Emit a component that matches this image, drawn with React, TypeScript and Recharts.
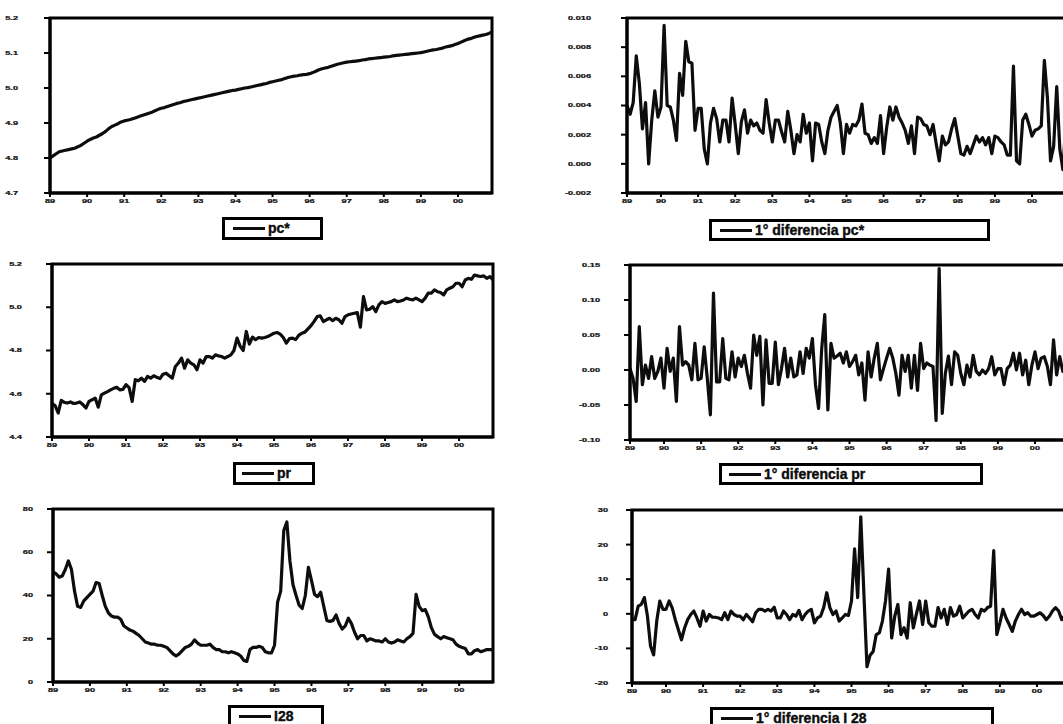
import React from 'react';
import { LineChart, Line, XAxis, YAxis, ReferenceArea } from 'recharts';

// months from 1989:01 (index 0) to 2000:12 (index 143)
const yearLabels = ['89', '90', '91', '92', '93', '94', '95', '96', '97', '98', '99', '00'];
const levelTicks = [0, 12, 24, 36, 48, 60, 72, 84, 96, 108, 120, 132];
const diffTicks = [1, 12, 24, 36, 48, 60, 72, 84, 96, 108, 120, 132];

const pcStar = [
  4.800, 4.806, 4.812, 4.818, 4.820, 4.822, 4.824, 4.826, 4.828, 4.832, 4.836, 4.842,
  4.848, 4.853, 4.857, 4.860, 4.865, 4.870, 4.876, 4.884, 4.890, 4.894, 4.898, 4.903,
  4.906, 4.908, 4.910, 4.913, 4.916, 4.919, 4.922, 4.925, 4.928, 4.931, 4.935, 4.939,
  4.942, 4.944, 4.947, 4.950, 4.953, 4.956, 4.958, 4.961, 4.963, 4.965, 4.967, 4.969,
  4.971, 4.973, 4.975, 4.977, 4.979, 4.981, 4.983, 4.985, 4.987, 4.989, 4.991, 4.993,
  4.994, 4.996, 4.998, 5.000, 5.001, 5.003, 5.005, 5.007, 5.009, 5.011, 5.013, 5.016,
  5.018, 5.020, 5.022, 5.024, 5.027, 5.030, 5.032, 5.034, 5.035, 5.037, 5.038, 5.039,
  5.041, 5.044, 5.048, 5.052, 5.055, 5.057, 5.059, 5.062, 5.065, 5.068, 5.070, 5.072,
  5.074, 5.075, 5.076, 5.077, 5.078, 5.080, 5.081, 5.083, 5.084, 5.085, 5.086, 5.087,
  5.088, 5.089, 5.090, 5.092, 5.093, 5.094, 5.095, 5.096, 5.097, 5.098, 5.099, 5.100,
  5.101, 5.103, 5.105, 5.107, 5.109, 5.110, 5.112, 5.114, 5.117, 5.119, 5.121, 5.124,
  5.127, 5.131, 5.135, 5.139, 5.141, 5.144, 5.147, 5.149, 5.151, 5.153, 5.156, 5.160,
];

const pr = [
  4.554, 4.545, 4.511, 4.569, 4.560, 4.557, 4.562, 4.555, 4.557, 4.562, 4.550, 4.534,
  4.565, 4.572, 4.580, 4.538, 4.595, 4.603, 4.610, 4.618, 4.625, 4.630, 4.618, 4.620,
  4.642, 4.628, 4.565, 4.665, 4.660, 4.672, 4.657, 4.680, 4.672, 4.683, 4.676, 4.670,
  4.690, 4.695, 4.683, 4.672, 4.726, 4.742, 4.765, 4.718, 4.757, 4.742, 4.734, 4.711,
  4.757, 4.742, 4.772, 4.772, 4.765, 4.780, 4.775, 4.772, 4.765, 4.772, 4.780, 4.800,
  4.857, 4.820, 4.800, 4.888, 4.830, 4.862, 4.850, 4.860, 4.857, 4.860, 4.865, 4.872,
  4.880, 4.883, 4.876, 4.860, 4.834, 4.855, 4.857, 4.850, 4.870, 4.880, 4.885, 4.900,
  4.915, 4.935, 4.957, 4.960, 4.934, 4.942, 4.949, 4.938, 4.949, 4.942, 4.926, 4.957,
  4.965, 4.969, 4.972, 4.975, 4.908, 5.049, 4.988, 4.991, 5.003, 4.980, 5.011, 5.026,
  5.018, 5.022, 5.026, 5.034, 5.026, 5.029, 5.034, 5.042, 5.037, 5.034, 5.042, 5.034,
  5.026, 5.042, 5.065, 5.065, 5.080, 5.072, 5.068, 5.057, 5.080, 5.088, 5.095, 5.111,
  5.111, 5.095, 5.126, 5.134, 5.129, 5.149, 5.145, 5.142, 5.145, 5.134, 5.142, 5.126,
];

const i28 = [
  51, 50, 48.5, 49, 52, 56, 52, 42, 35, 34.5, 37.5, 39,
  40.5, 42, 46, 45.5, 40, 35, 32, 30.5, 30, 30, 29, 26,
  25, 24, 23.5, 22.5, 21.5, 20, 18.5, 18, 17.5, 17.5, 17, 17,
  16.5, 16, 14.5, 13, 12, 13, 14.5, 16, 16.5, 17.5, 19.5, 18,
  17, 17, 17, 17.5, 16, 15, 15, 14, 14, 13.5, 14, 13.5,
  13, 12, 10, 9.5, 15, 16, 16, 16.5, 16, 14, 13.5, 13.5,
  17, 37, 42, 70, 74, 56, 45, 40, 35.5, 34, 40, 53,
  47, 40.5, 39.5, 41.5, 35, 28.5, 28, 28.5, 31, 27, 24.5, 26,
  29.5, 27, 23, 20, 21.5, 21.5, 19, 20, 19.5, 19, 19, 18.5,
  20, 18.5, 18, 18.5, 19.5, 19, 18.5, 20, 21, 22.5, 40.5, 35,
  33, 33.5, 30, 25, 22, 21, 20, 21, 20.5, 20, 19.5, 17.5,
  16.5, 16, 15.5, 13, 13, 14.5, 15, 14, 14.5, 15, 15, 15,
];

// first differences, 1989:02 (index 1) to 2000:12 (index 143)
const dPcStar = [
  0.0040, 0.0034, 0.0042, 0.0074, 0.0055, 0.0024, 0.0042, 0.0000, 0.0030, 0.0050,
  0.0032, 0.0039, 0.0095, 0.0040, 0.0039, 0.0030, 0.0016, 0.0062, 0.0047, 0.0084,
  0.0070, 0.0069, 0.0023, 0.0038, 0.0038, 0.0010, 0.0000, 0.0028, 0.0038, 0.0031,
  0.0015, 0.0030, 0.0030, 0.0015, 0.0045, 0.0027, 0.0007, 0.0029, 0.0037, 0.0021,
  0.0030, 0.0026, 0.0028, 0.0023, 0.0021, 0.0044, 0.0028, 0.0015, 0.0030, 0.0030,
  0.0022, 0.0015, 0.0036, 0.0023, 0.0007, 0.0020, 0.0015, 0.0034, 0.0021, 0.0028,
  0.0002, 0.0028, 0.0027, 0.0015, 0.0007, 0.0023, 0.0032, 0.0036, 0.0040, 0.0028,
  0.0007, 0.0027, 0.0021, 0.0027, 0.0026, 0.0030, 0.0041, 0.0021, 0.0020, 0.0014,
  0.0018, 0.0014, 0.0033, 0.0007, 0.0025, 0.0039, 0.0030, 0.0039, 0.0032, 0.0028,
  0.0023, 0.0014, 0.0026, 0.0007, 0.0032, 0.0031, 0.0027, 0.0026, 0.0020, 0.0027,
  0.0014, 0.0002, 0.0019, 0.0013, 0.0015, 0.0024, 0.0031, 0.0019, 0.0007, 0.0006,
  0.0012, 0.0007, 0.0013, 0.0019, 0.0015, 0.0018, 0.0013, 0.0018, 0.0007, 0.0019,
  0.0018, 0.0015, 0.0013, 0.0006, 0.0006, 0.0067, 0.0002, 0.0000, 0.0030, 0.0034,
  0.0027, 0.0019, 0.0023, 0.0024, 0.0026, 0.0071, 0.0045, 0.0002, 0.0012, 0.0053,
  0.0010, -0.0004, 0.0030,
];

const dPr = [
  0.002, -0.012, -0.045, 0.062, -0.021, 0.007, -0.012, 0.019, -0.012, -0.002,
  0.017, -0.026, 0.031, -0.002, 0.017, -0.045, 0.062, 0.007, 0.012, 0.007,
  -0.014, 0.038, -0.014, -0.012, 0.033, -0.012, -0.064, 0.110, -0.017, -0.017,
  0.045, -0.012, -0.014, 0.026, -0.010, 0.017, 0.005, 0.021, -0.005, -0.026,
  0.050, 0.021, 0.048, -0.050, 0.043, -0.019, -0.019, 0.040, -0.021, 0.002,
  0.031, -0.010, 0.017, -0.010, -0.007, 0.026, -0.005, 0.031, 0.017, 0.045,
  -0.021, -0.055, 0.030, 0.079, -0.057, 0.038, 0.017, 0.020, 0.024, 0.010,
  0.026, 0.005, 0.012, 0.021, -0.007, 0.010, -0.043, 0.026, -0.010, 0.017,
  0.038, -0.014, 0.002, 0.017, 0.031, 0.017, -0.005, -0.036, 0.021, -0.002,
  0.021, -0.026, 0.021, -0.029, 0.038, 0.002, 0.010, 0.007, 0.005, -0.072,
  0.145, -0.062, -0.005, 0.020, -0.021, 0.026, 0.021, -0.005, -0.021, 0.007,
  -0.010, 0.021, -0.002, -0.007, 0.000, -0.005, 0.002, 0.019, -0.007, 0.002,
  0.002, -0.021, 0.002, 0.007, 0.024, 0.000, 0.024, -0.007, 0.014, -0.021,
  0.007, 0.026, 0.002, 0.017, 0.019, 0.005, -0.021, 0.043, -0.007, 0.019,
  -0.002, 0.005, 0.010,
];

const dI28 = [
  -1.7, -1.7, 2.2, 2.7, 4.7, -0.7, -9.4, -11.9, -2.1, 3.7,
  1.3, 1.3, 3.7, 1.7, -1.7, -4.6, -7.5, -4.1, -1.7, -0.2,
  0.8, -1.2, -3.6, 0.8, -2.1, -0.2, -1.0, -1.0, -1.2, -1.7,
  0.3, -1.7, 0.8, -0.2, -0.7, -0.7, -1.7, -0.2, -1.2, -2.3,
  0.3, 1.3, 1.3, 0.8, 1.3, 0.8, 1.9, -1.2, -1.2, 0.8,
  -0.2, -1.7, -0.2, -0.7, 1.0, -1.7, -0.2, 0.8, 1.3, -2.6,
  -1.2, -0.7, 1.8, 6.1, 1.8, -0.2, 0.8, -2.1, -1.2, -0.2,
  -0.5, 3.7, 18.8, 4.7, 28, 6, -15.3, -12, -10.9, -6,
  -5.5, -2.1, 3.7, 12.9, -7.0, -0.7, 2.7, -6.0, -4.0, -7.0,
  3.2, -4.1, 0.0, 3.7, -3.1, 3.7, -2.6, -3.6, -3.6, 1.8,
  -1.2, 1.3, -3.1, 1.8, -0.7, -0.2, 2.2, -1.2, -0.2, 0.8,
  1.3, -0.2, -1.2, 1.3, 0.8, 1.8, 2.2, 18.3, -6.0, -2.6,
  1.3, -1.2, -3.1, -5.1, -2.1, -0.2, 1.3, -0.2, 0.3, -0.7,
  -0.7, -0.2, 0.3, -0.5, -1.7, -0.7, 0.8, 1.8, 0.8, -1.7,
  -0.5, 0.8, 0.5,
];

const toRows = (vals: number[], start: number) => vals.map((v, k) => ({ t: start + k, v }));

const FONT = '"Liberation Sans", Arial, sans-serif';

const YTick = (props: any) => {
  const { x, y, payload, fmt } = props;
  return (
    <text
      x={x}
      y={y}
      textAnchor="end"
      dominantBaseline="central"
      fontSize={8}
      fontWeight="bold"
      fontFamily={FONT}
      fill="#111"
      stroke="#111"
      strokeWidth={0.3}
      transform={`translate(${x},${y}) scale(1.15,0.75) translate(${-x},${-y})`}
    >
      {fmt(payload.value)}
    </text>
  );
};

const XTick = (props: any) => {
  const { x, y, payload, ticks } = props;
  const label = yearLabels[ticks.indexOf(payload.value)];
  return (
    <text
      x={x}
      y={y + 5}
      textAnchor="middle"
      fontSize={8}
      fontWeight="bold"
      fontFamily={FONT}
      fill="#111"
      stroke="#111"
      strokeWidth={0.3}
      transform={`translate(${x},${y}) scale(1.15,0.75) translate(${-x},${-y})`}
    >
      {label}
    </text>
  );
};

type Panel = {
  rows: { t: number; v: number }[];
  left: number;
  top: number;
  width: number;
  height: number;
  mTop: number;
  mRight: number;
  yWidth: number;
  xHeight: number;
  yGap: number;
  xDomain: [number, number];
  xTicks: number[];
  yDomain: [number, number];
  yTicks: number[];
  fmt: (v: number) => string;
  legend: { label: string; left: number; top: number; width: number; height: number; pad: number };
};

const panels: Panel[] = [
  {
    rows: toRows(pcStar, 0), left: 0, top: 0, width: 500, height: 215, mTop: 18, mRight: 8,
    yWidth: 50, xHeight: 22, yGap: 26, xDomain: [0, 143], xTicks: levelTicks,
    yDomain: [4.7, 5.2], yTicks: [4.7, 4.8, 4.9, 5.0, 5.1, 5.2], fmt: (v) => v.toFixed(1),
    legend: { label: 'pc*', left: 222, top: 217, width: 101, height: 23, pad: 8 },
  },
  {
    rows: toRows(pr, 0), left: 0, top: 250, width: 500, height: 210, mTop: 14, mRight: 7,
    yWidth: 52, xHeight: 23, yGap: 24, xDomain: [0, 143], xTicks: levelTicks,
    yDomain: [4.4, 5.2], yTicks: [4.4, 4.6, 4.8, 5.0, 5.2], fmt: (v) => v.toFixed(1),
    legend: { label: 'pr', left: 233, top: 462, width: 82, height: 23, pad: 6 },
  },
  {
    rows: toRows(i28, 0), left: 0, top: 490, width: 500, height: 215, mTop: 19, mRight: 7,
    yWidth: 53, xHeight: 23, yGap: 14, xDomain: [0, 143], xTicks: levelTicks,
    yDomain: [0, 80], yTicks: [0, 20, 40, 60, 80], fmt: (v) => String(v),
    legend: { label: 'I28', left: 228, top: 705, width: 96, height: 23, pad: 8 },
  },
  {
    rows: toRows(dPcStar, 1), left: 530, top: 0, width: 540, height: 215, mTop: 18, mRight: 4,
    yWidth: 97, xHeight: 22, yGap: 30, xDomain: [1, 143], xTicks: diffTicks,
    yDomain: [-0.002, 0.01], yTicks: [-0.002, 0, 0.002, 0.004, 0.006, 0.008, 0.01],
    fmt: (v) => v.toFixed(3),
    legend: { label: '1° diferencia pc*', left: 709, top: 219, width: 281, height: 22, pad: 8 },
  },
  {
    rows: toRows(dPr, 1), left: 530, top: 250, width: 545, height: 213, mTop: 15, mRight: 6,
    yWidth: 100, xHeight: 23, yGap: 24, xDomain: [1, 143], xTicks: diffTicks,
    yDomain: [-0.1, 0.15], yTicks: [-0.1, -0.05, 0, 0.05, 0.1, 0.15], fmt: (v) => v.toFixed(2),
    legend: { label: '1° diferencia pr', left: 719, top: 463, width: 264, height: 22, pad: 7 },
  },
  {
    rows: toRows(dI28, 1), left: 530, top: 490, width: 545, height: 216, mTop: 20, mRight: 4,
    yWidth: 102, xHeight: 23, yGap: 18, xDomain: [1, 143], xTicks: diffTicks,
    yDomain: [-20, 30], yTicks: [-20, -10, 0, 10, 20, 30], fmt: (v) => String(v),
    legend: { label: '1° diferencia I 28', left: 710, top: 707, width: 284, height: 22, pad: 8 },
  },
];

const frame = { stroke: '#000', strokeWidth: 3 };

const Chart = ({ p }: { p: Panel }) => (
  <div style={{ position: 'absolute', left: p.left, top: p.top }}>
    <LineChart
      width={p.width}
      height={p.height}
      data={p.rows}
      margin={{ top: p.mTop, right: p.mRight, left: 0, bottom: 0 }}
    >
      <XAxis
        dataKey="t"
        type="number"
        domain={p.xDomain}
        ticks={p.xTicks}
        interval={0}
        height={p.xHeight}
        tickSize={4}
        tickLine={{ stroke: '#000', strokeWidth: 2 }}
        axisLine={frame}
        tick={<XTick ticks={p.xTicks} />}
      />
      <YAxis
        type="number"
        domain={p.yDomain}
        ticks={p.yTicks}
        interval={0}
        width={p.yWidth}
        tickSize={6}
        tickMargin={p.yGap}
        tickLine={{ stroke: '#000', strokeWidth: 2 }}
        axisLine={frame}
        tick={<YTick fmt={p.fmt} />}
      />
      <ReferenceArea
        x1={p.xDomain[0]}
        x2={p.xDomain[1]}
        y1={p.yDomain[0]}
        y2={p.yDomain[1]}
        fill="none"
        fillOpacity={0}
        stroke="#000"
        strokeWidth={3}
      />
      <Line
        type="linear"
        dataKey="v"
        stroke="#0d0d0d"
        strokeWidth={3.2}
        strokeLinejoin="round"
        dot={false}
        isAnimationActive={false}
      />
    </LineChart>
  </div>
);

const Legend = ({ p }: { p: Panel }) => {
  const l = p.legend;
  return (
    <div
      style={{
        position: 'absolute',
        left: l.left,
        top: l.top,
        width: l.width,
        height: l.height,
        boxSizing: 'border-box',
        border: '3px solid #000',
        display: 'flex',
        alignItems: 'center',
        paddingLeft: l.pad,
        fontFamily: FONT,
        fontWeight: 'bold',
        fontSize: 14,
        color: '#0d0d0d',
        whiteSpace: 'nowrap',
        background: '#fff',
        WebkitTextStroke: '0.4px #0d0d0d',
      }}
    >
      <span style={{ display: 'inline-block', width: 32, height: 3, background: '#0d0d0d', marginRight: 3 }} />
      <span style={{ lineHeight: '14px', marginTop: -1 }}>{l.label}</span>
    </div>
  );
};

export default function App() {
  return (
    <div
      style={{
        position: 'absolute',
        left: 0,
        top: 0,
        width: 1063,
        height: 724,
        overflow: 'hidden',
        background: '#fff',
      }}
    >
      {panels.map((p, k) => (
        <Chart key={`c${k}`} p={p} />
      ))}
      {panels.map((p, k) => (
        <Legend key={`l${k}`} p={p} />
      ))}
    </div>
  );
}
